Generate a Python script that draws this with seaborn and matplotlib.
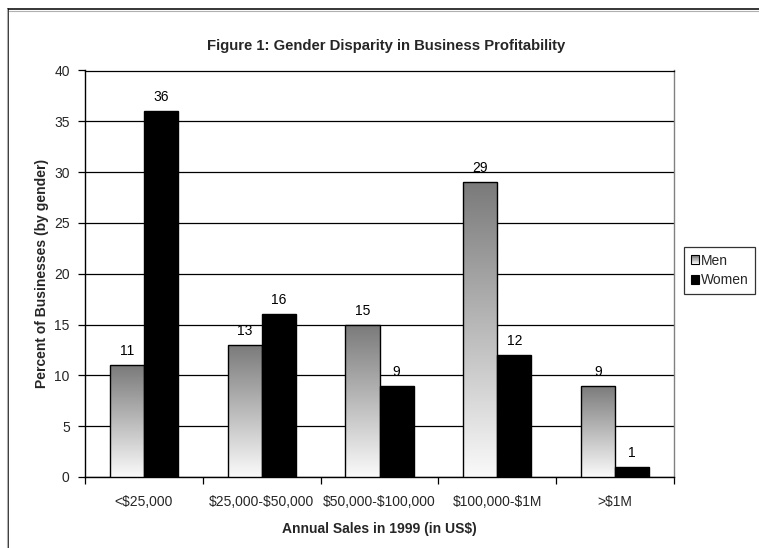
import numpy as np
import pandas as pd
import matplotlib
matplotlib.use("Agg")
import matplotlib.pyplot as plt
import seaborn as sns
from matplotlib.colors import LinearSegmentedColormap
from matplotlib.patches import Rectangle
from matplotlib.lines import Line2D
from matplotlib.legend_handler import HandlerBase

categories = ['<$25,000', '$25,000-$50,000', '$50,000-$100,000', '$100,000-$1M', '>$1M']
men = [11, 13, 15, 29, 9]
women = [36, 16, 9, 12, 1]
series = ['Men', 'Women']
y_ticks = [0, 5, 10, 15, 20, 25, 30, 35, 40]

df = pd.DataFrame({
    'category': categories * 2,
    'gender': ['Men'] * len(categories) + ['Women'] * len(categories),
    'value': men + women,
})

sns.set_theme(style='white')
plt.rcParams['font.family'] = ['Liberation Sans', 'DejaVu Sans']

W, H = 759, 548
fig = plt.figure(figsize=(W / 100, H / 100), dpi=100)
ax = fig.add_axes([85 / W, 1 - 477 / H, (674 - 85) / W, (477 - 70.5) / H])

# vertical gray gradient used for the "Men" bars (dark at the top)
grad_cmap = LinearSegmentedColormap.from_list('men_grad', ['#fafafa', '#7a7a7a'])

sns.barplot(data=df, x='category', y='value', hue='gender', order=categories,
            hue_order=series, palette={'Men': '#a0a0a0', 'Women': '#000000'},
            width=0.58, edgecolor='black', linewidth=1.0, ax=ax, legend=False,
            zorder=3)

# replace the flat fill of the Men bars with a per-bar gradient
gradient = np.linspace(0, 1, 256).reshape(-1, 1)
for bar in ax.containers[0]:
    x, y, w, h = bar.get_x(), bar.get_y(), bar.get_width(), bar.get_height()
    im = ax.imshow(gradient, cmap=grad_cmap, origin='lower', aspect='auto',
                   extent=[x, x + w, y, y + h], zorder=2.9, interpolation='bilinear')
    im.set_clip_path(bar)
    bar.set_facecolor('none')

ax.set_ylim(0, 40)
ax.set_xlim(-0.5, len(categories) - 0.5)

for cont in ax.containers:
    ax.bar_label(cont, labels=[f'{v:g}' for v in cont.datavalues],
                 padding=5, fontsize=10, color='black')

# axes styling
ax.set_yticks(y_ticks)
ax.set_yticklabels([str(t) for t in y_ticks], fontsize=10)
ax.yaxis.grid(True, color='black', linewidth=0.9)
ax.set_axisbelow(True)
ax.tick_params(axis='y', which='major', direction='out', length=5, width=0.9,
               color='black', left=True, pad=6)
ax.set_xticks(range(len(categories)))
ax.set_xticklabels(categories, fontsize=10)
for lbl in ax.get_xticklabels():
    lbl.set_parse_math(False)
ax.set_xticks(np.arange(-0.5, len(categories), 1.0), minor=True)
ax.tick_params(axis='x', which='major', length=0, pad=13)
ax.tick_params(axis='x', which='minor', direction='out', length=5, width=0.9,
               color='black', bottom=True)
for side in ['left', 'bottom']:
    ax.spines[side].set_color('black')
    ax.spines[side].set_linewidth(1.0)
ax.spines['top'].set_color('black')
ax.spines['top'].set_linewidth(0.9)
ax.spines['right'].set_color('#808080')
ax.spines['right'].set_linewidth(1.0)

ax.set_xlabel('Annual Sales in 1999 (in US$)', fontsize=10, fontweight='bold',
              labelpad=9, parse_math=False)
ax.set_ylabel('Percent of Businesses (by gender)', fontsize=10, fontweight='bold',
              labelpad=4)

fig.text(386 / W, 1 - 46 / H,
         'Figure 1: Gender Disparity in Business Profitability',
         ha='center', va='center', fontsize=10.7, fontweight='bold')


# legend with a gradient swatch for Men
class GradientSwatch(HandlerBase):
    def create_artists(self, legend, orig_handle, xdescent, ydescent,
                       width, height, fontsize, trans):
        n = 12
        arts = []
        for i in range(n):
            arts.append(Rectangle((-xdescent, -ydescent + i * height / n), width,
                                  height / n, facecolor=grad_cmap(i / (n - 1)),
                                  edgecolor='none', transform=trans))
        arts.append(Rectangle((-xdescent, -ydescent), width, height,
                              facecolor='none', edgecolor='black', lw=0.8,
                              transform=trans))
        return arts


men_handle = Rectangle((0, 0), 1, 1)
women_handle = Rectangle((0, 0), 1, 1, facecolor='black', edgecolor='black', lw=0.8)
leg = fig.legend([men_handle, women_handle], series,
                 handler_map={men_handle: GradientSwatch()},
                 loc='upper left', bbox_to_anchor=(684 / W, 1 - 247 / H),
                 frameon=True, fancybox=False, fontsize=10,
                 handlelength=0.6, handleheight=0.6, handletextpad=0.12,
                 borderpad=0.48, labelspacing=0.4, borderaxespad=0)
leg.get_frame().set_edgecolor('black')
leg.get_frame().set_linewidth(0.9)

# outer chart frame
fig.add_artist(Line2D([8 / W, 8 / W], [0, 1 - 9 / H], transform=fig.transFigure,
                      color='black', lw=1.1))
fig.add_artist(Line2D([8 / W, 1], [1 - 9 / H, 1 - 9 / H], transform=fig.transFigure,
                      color='black', lw=1.1))
fig.add_artist(Line2D([7 / W, 7 / W], [0, 1 - 9 / H], transform=fig.transFigure,
                      color='#b0b0b0', lw=0.8))
fig.add_artist(Line2D([9 / W, 1], [1 - 10.5 / H, 1 - 10.5 / H], transform=fig.transFigure,
                      color='#b0b0b0', lw=0.8))

fig.savefig('out.png', dpi=100)
